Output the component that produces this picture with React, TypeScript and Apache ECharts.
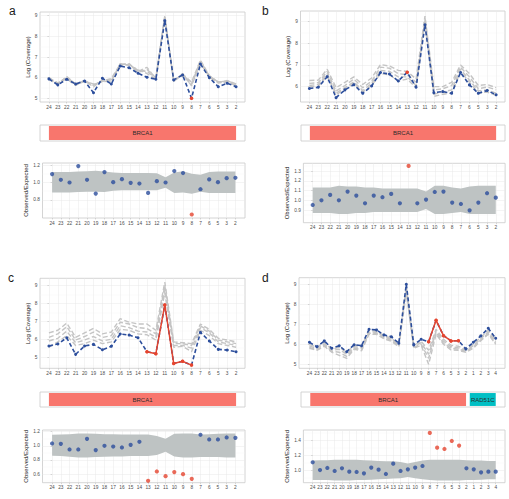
import React, { useEffect, useRef } from 'react';
import * as echarts from 'echarts';

// Exon labels (BRCA1 runs 3'->5', RAD51C follows in panel d)
const BRCA1_EXONS = ['24', '23', '22', '21', '20', '19', '18', '17', '16', '15', '14', '13', '12', '11', '10', '9', '8', '7', '6', '5', '3', '2'];
const RAD51C_EXONS = ['1', '2', '3', '4'];
const D_EXONS = [...BRCA1_EXONS, ...RAD51C_EXONS];

// Tick labels
const COV_TICKS = [5, 6, 7, 8, 9];
const A_RATIO_TICKS = [0.8, 1.0, 1.2];
const B_RATIO_TICKS = [0.9, 1.0, 1.1, 1.2, 1.3];
const C_RATIO_TICKS = [0.6, 0.8, 1.0, 1.2];
const D_RATIO_TICKS = [1.0, 1.2, 1.4];

// Panel a
const A_SAMPLE = [5.94, 5.65, 5.92, 5.69, 5.84, 5.27, 5.97, 5.69, 6.56, 6.48, 6.21, 6.02, 5.92, 8.76, 5.89, 6.13, 5.0, 6.66, 6.0, 5.56, 5.73, 5.56];
const A_REF1 = [6.0, 5.72, 6.03, 5.66, 5.88, 5.62, 5.85, 5.95, 6.66, 6.65, 6.35, 6.3, 5.98, 9.0, 5.82, 6.18, 5.78, 6.85, 6.1, 5.78, 5.85, 5.68];
const A_REF2 = [5.96, 5.75, 5.98, 5.72, 5.82, 5.7, 5.8, 5.86, 6.6, 6.62, 6.3, 6.5, 5.95, 8.92, 5.86, 6.12, 5.65, 6.78, 6.02, 5.74, 5.82, 5.64];
const A_REF3 = [5.9, 5.7, 5.95, 5.62, 5.86, 5.55, 5.9, 5.8, 6.68, 6.6, 6.38, 6.2, 5.92, 8.95, 5.8, 6.2, 5.6, 6.7, 6.05, 5.8, 5.78, 5.62];
const A_REF4 = [5.98, 5.68, 6.06, 5.68, 5.8, 5.66, 5.82, 5.9, 6.62, 6.68, 6.25, 6.4, 6.0, 8.88, 5.88, 6.15, 5.7, 6.8, 6.08, 5.76, 5.86, 5.7];
const A_RATIO = [1.096, 1.031, 1.0, 1.188, 1.031, 0.873, 1.119, 1.004, 1.038, 0.996, 0.988, 0.881, 1.015, 1.0, 1.131, 1.108, 0.634, 0.923, 1.035, 1.004, 1.05, 1.054];
const A_UPPER = [1.12, 1.12, 1.12, 1.125, 1.13, 1.135, 1.125, 1.115, 1.11, 1.11, 1.11, 1.11, 1.105, 1.06, 1.115, 1.13, 1.1, 1.09, 1.12, 1.125, 1.125, 1.125];
const A_LOWER = [0.885, 0.885, 0.885, 0.89, 0.895, 0.895, 0.89, 0.905, 0.91, 0.91, 0.91, 0.91, 0.91, 0.94, 0.88, 0.885, 0.87, 0.895, 0.88, 0.88, 0.88, 0.88];
const A_OUTLIERS = [16];

// Panel b
const B_SAMPLE = [5.91, 5.97, 6.46, 5.49, 5.85, 6.09, 5.69, 6.03, 6.65, 6.58, 6.26, 6.66, 5.97, 8.85, 5.72, 5.77, 5.69, 6.65, 6.08, 5.69, 5.82, 5.62];
const B_REF1 = [6.28, 6.3, 6.8, 5.95, 6.2, 6.45, 6.1, 6.4, 7.02, 6.95, 6.75, 6.7, 6.35, 9.25, 6.0, 6.0, 6.2, 7.0, 6.6, 6.05, 6.1, 5.95];
const B_REF2 = [6.15, 6.18, 6.7, 5.8, 6.05, 6.35, 5.95, 6.25, 6.9, 6.85, 6.6, 6.55, 6.2, 9.15, 5.85, 5.9, 6.05, 6.9, 6.45, 5.9, 5.98, 5.85];
const B_REF3 = [6.05, 6.1, 6.6, 5.7, 5.95, 6.22, 5.82, 6.15, 6.75, 6.7, 6.45, 6.45, 6.05, 9.05, 5.65, 5.75, 5.85, 6.8, 6.3, 5.8, 5.85, 5.7];
const B_REF4 = [5.98, 6.02, 6.5, 5.62, 5.9, 6.15, 5.75, 6.05, 6.6, 6.55, 6.25, 6.35, 5.95, 8.95, 5.55, 5.65, 5.7, 6.7, 6.2, 5.7, 5.75, 5.6];
const B_RATIO = [0.952, 1.0, 1.055, 1.0, 1.089, 1.048, 0.969, 1.048, 1.031, 1.065, 0.969, 1.352, 0.969, 1.007, 1.085, 1.089, 0.976, 0.962, 0.897, 0.976, 1.072, 1.027];
const B_UPPER = [1.13, 1.13, 1.13, 1.15, 1.14, 1.14, 1.13, 1.13, 1.12, 1.12, 1.12, 1.12, 1.12, 1.09, 1.15, 1.15, 1.13, 1.12, 1.14, 1.15, 1.15, 1.15];
const B_LOWER = [0.87, 0.87, 0.87, 0.86, 0.86, 0.87, 0.87, 0.88, 0.88, 0.88, 0.88, 0.88, 0.88, 0.91, 0.86, 0.86, 0.87, 0.88, 0.86, 0.86, 0.86, 0.86];
const B_OUTLIERS = [11];

// Panel c
const C_SAMPLE = [5.62, 5.73, 6.08, 5.15, 5.62, 5.71, 5.41, 5.6, 6.29, 6.23, 6.08, 5.3, 5.19, 7.92, 4.64, 4.76, 4.55, 6.38, 5.9, 5.43, 5.39, 5.3];
const C_REF1 = [6.35, 6.5, 6.9, 6.1, 6.35, 6.6, 6.3, 6.4, 7.15, 6.95, 6.85, 6.85, 6.5, 9.2, 5.85, 5.8, 5.75, 6.85, 6.55, 6.05, 5.95, 5.85];
const C_REF2 = [6.1, 6.3, 6.7, 5.95, 6.15, 6.4, 6.1, 6.2, 6.95, 6.85, 6.65, 6.6, 6.3, 9.0, 5.75, 5.75, 5.65, 6.75, 6.45, 5.95, 5.85, 5.75];
const C_REF3 = [5.9, 6.05, 6.45, 5.8, 5.95, 6.15, 5.9, 6.0, 6.75, 6.65, 6.45, 6.4, 6.1, 8.8, 5.65, 5.65, 5.5, 6.65, 6.35, 5.85, 5.75, 5.65];
const C_REF4 = [5.55, 5.85, 6.2, 5.65, 5.75, 5.95, 5.75, 5.85, 6.55, 6.5, 6.3, 6.25, 5.95, 8.6, 5.55, 5.6, 5.3, 6.5, 6.2, 5.75, 5.65, 5.55];
const C_RATIO = [1.033, 1.028, 0.948, 0.948, 1.099, 0.939, 1.0, 0.99, 0.976, 1.014, 1.057, 0.504, 0.636, 0.57, 0.627, 0.598, 0.532, 1.156, 1.09, 1.09, 1.118, 1.113];
const C_UPPER = [1.155, 1.16, 1.165, 1.175, 1.175, 1.17, 1.165, 1.165, 1.16, 1.16, 1.16, 1.16, 1.14, 1.1, 1.17, 1.175, 1.175, 1.16, 1.165, 1.17, 1.175, 1.175];
const C_LOWER = [0.86, 0.855, 0.845, 0.835, 0.835, 0.84, 0.845, 0.85, 0.85, 0.855, 0.855, 0.855, 0.87, 0.915, 0.85, 0.835, 0.835, 0.84, 0.84, 0.84, 0.835, 0.835];
const C_OUTLIERS = [11, 12, 13, 14, 15, 16];

// Panel d
const D_SAMPLE = [6.1, 5.88, 6.17, 5.8, 5.93, 5.63, 5.98, 5.93, 6.75, 6.72, 6.47, 6.38, 6.05, 9.0, 5.97, 6.25, 6.13, 7.2, 6.43, 6.17, 6.18, 5.77, 6.1, 6.42, 6.8, 6.3];
const D_REF1 = [6.0, 5.85, 6.1, 5.75, 5.85, 5.6, 5.95, 5.9, 6.7, 6.65, 6.45, 6.3, 6.0, 8.9, 5.95, 6.15, 5.7, 6.75, 6.25, 5.95, 5.9, 5.75, 6.0, 6.35, 6.7, 6.2];
const D_REF2 = [5.92, 5.78, 6.02, 5.7, 5.75, 5.5, 5.88, 5.82, 6.62, 6.6, 6.38, 6.25, 5.95, 8.8, 5.9, 6.08, 5.5, 6.65, 6.15, 5.88, 5.82, 5.7, 5.92, 6.28, 6.62, 6.12];
const D_REF3 = [5.85, 5.72, 5.95, 5.65, 5.6, 5.4, 5.8, 5.75, 6.55, 6.55, 6.32, 6.2, 5.92, 8.7, 5.85, 6.0, 5.3, 6.58, 6.05, 5.8, 5.76, 5.65, 5.86, 6.22, 6.55, 6.05];
const D_REF4 = [5.8, 5.7, 5.9, 5.6, 5.45, 5.3, 5.75, 5.68, 6.5, 6.5, 6.28, 6.15, 5.88, 8.6, 5.8, 5.95, 5.0, 6.5, 6.0, 5.72, 5.7, 5.6, 5.8, 6.18, 6.5, 6.0];
const D_RATIO = [1.107, 1.004, 1.031, 0.991, 1.027, 0.982, 0.978, 0.96, 1.036, 1.009, 0.951, 1.089, 0.991, 1.013, 1.036, 1.058, 1.498, 1.302, 1.284, 1.391, 1.329, 1.027, 1.013, 0.973, 0.982, 0.982];
const D_UPPER = [1.13, 1.135, 1.135, 1.14, 1.14, 1.14, 1.14, 1.135, 1.13, 1.125, 1.12, 1.12, 1.11, 1.09, 1.11, 1.13, 1.14, 1.14, 1.14, 1.14, 1.14, 1.135, 1.13, 1.13, 1.125, 1.125];
const D_LOWER = [0.87, 0.87, 0.87, 0.865, 0.865, 0.865, 0.87, 0.87, 0.875, 0.88, 0.885, 0.89, 0.895, 0.91, 0.895, 0.88, 0.87, 0.865, 0.865, 0.865, 0.865, 0.87, 0.87, 0.875, 0.88, 0.88];
const D_OUTLIERS = [16, 17, 18, 19, 20];

// Gene spans in exon-index units
const GENES_BRCA1 = [{ name: 'BRCA1', from: 0, to: 21, color: '#F8766D' }];
const GENES_D = [
  { name: 'BRCA1', from: 0, to: 21, color: '#F8766D' },
  { name: 'RAD51C', from: 21.5, to: 25, color: '#00BFC4' },
];

const FONT = '"Liberation Sans", Arial, Helvetica, sans-serif';
const BLUE = '#2c4e9c';
const RED = '#e5452f';
const REF_GREY = '#c4c4c4';
const BAND = '#bec3c3';
const BORDER = '#c9c9c9';
const GRID_MAJOR = '#e8e8e8';
const GRID_MINOR = '#f4f4f4';
const TICK_TEXT = '#4d4d4d';

type Box = { left: number; top: number; width: number; height: number };
type Gene = { name: string; from: number; to: number; color: string };

interface Panel {
  letter: string;
  letterX: number;
  letterY: number;
  exons: string[];
  sample: number[];
  refs: number[][];
  outliers: number[];
  ratio: number[];
  upper: number[];
  lower: number[];
  genes: Gene[];
  ratioTicks: number[];
  ratioStep: number;
  top: Box; topX: [number, number]; topY: [number, number]; topGap: number;
  track: Box; trackX: [number, number];
  bottom: Box; bottomX: [number, number]; bottomY: [number, number]; bottomGap: number;
}

const PANELS: Panel[] = [
  {
    letter: 'a', letterX: 9, letterY: 10.8, exons: BRCA1_EXONS,
    sample: A_SAMPLE, refs: [A_REF1, A_REF2, A_REF3, A_REF4], outliers: A_OUTLIERS,
    ratio: A_RATIO, upper: A_UPPER, lower: A_LOWER, genes: GENES_BRCA1,
    ratioTicks: A_RATIO_TICKS, ratioStep: 0.2,
    top: { left: 40, top: 12, width: 205, height: 90 }, topX: [-1, 22], topY: [4.82, 9.18], topGap: 6.5,
    track: { left: 40, top: 125, width: 205, height: 16 }, trackX: [-1, 22],
    bottom: { left: 42.5, top: 163, width: 202.5, height: 55 }, bottomX: [-1.1, 22.1], bottomY: [0.594, 1.223], bottomGap: 9.5,
  },
  {
    letter: 'b', letterX: 262, letterY: 10.8, exons: BRCA1_EXONS,
    sample: B_SAMPLE, refs: [B_REF1, B_REF2, B_REF3, B_REF4], outliers: B_OUTLIERS,
    ratio: B_RATIO, upper: B_UPPER, lower: B_LOWER, genes: GENES_BRCA1,
    ratioTicks: B_RATIO_TICKS, ratioStep: 0.1,
    top: { left: 300.5, top: 11, width: 204.5, height: 91 }, topX: [-1, 22], topY: [5.29, 9.49], topGap: 7.5,
    track: { left: 301, top: 125, width: 204, height: 16 }, trackX: [-1, 22],
    bottom: { left: 303.4, top: 163.3, width: 201.7, height: 59.4 }, bottomX: [-1.07, 22.07], bottomY: [0.77, 1.379], bottomGap: 10.5,
  },
  {
    letter: 'c', letterX: 8, letterY: 277.8, exons: BRCA1_EXONS,
    sample: C_SAMPLE, refs: [C_REF1, C_REF2, C_REF3, C_REF4], outliers: C_OUTLIERS,
    ratio: C_RATIO, upper: C_UPPER, lower: C_LOWER, genes: GENES_BRCA1,
    ratioTicks: C_RATIO_TICKS, ratioStep: 0.2,
    top: { left: 40, top: 278.3, width: 205, height: 90 }, topX: [-1, 22], topY: [4.37, 9.41], topGap: 6.5,
    track: { left: 40, top: 392, width: 205, height: 15 }, trackX: [-1, 22],
    bottom: { left: 42.5, top: 430, width: 202.5, height: 52.7 }, bottomX: [-1.1, 22.1], bottomY: [0.477, 1.224], bottomGap: 9.5,
  },
  {
    letter: 'd', letterX: 262, letterY: 277.8, exons: D_EXONS,
    sample: D_SAMPLE, refs: [D_REF1, D_REF2, D_REF3, D_REF4], outliers: D_OUTLIERS,
    ratio: D_RATIO, upper: D_UPPER, lower: D_LOWER, genes: GENES_D,
    ratioTicks: D_RATIO_TICKS, ratioStep: 0.2,
    top: { left: 299, top: 277.7, width: 206, height: 90.6 }, topX: [-1.4, 26.25], topY: [4.8, 9.33], topGap: 6.5,
    track: { left: 301, top: 392, width: 204, height: 15 }, trackX: [-1.25, 26.25],
    bottom: { left: 303.4, top: 430, width: 201.6, height: 52.7 }, bottomX: [-1.27, 26.27], bottomY: [0.835, 1.537], bottomGap: 10.5,
  },
];

function buildOption() {
  const grid: any[] = [];
  const xAxis: any[] = [];
  const yAxis: any[] = [];
  const series: any[] = [];
  const graphic: any[] = [];

  const addGrid = (box: Box) => {
    grid.push({ ...box, show: true, borderColor: BORDER, borderWidth: 0.8, backgroundColor: '#ffffff' });
    return grid.length - 1;
  };

  const exonAxis = (gi: number, range: [number, number], labels: string[], visible: boolean) => {
    const idx = labels.map((_, i) => i);
    return {
      type: 'value', gridIndex: gi, min: range[0], max: range[1], minInterval: 1, maxInterval: 1,
      axisLine: { show: false },
      axisTick: { show: visible, customValues: idx, length: 1.5, lineStyle: { color: '#b3b3b3', width: 0.5 } },
      axisLabel: {
        show: visible, customValues: idx, margin: 2.5, fontSize: 4.8, color: TICK_TEXT, fontFamily: FONT,
        formatter: (v: number) => labels[Math.round(v)] ?? '',
      },
      splitLine: { show: visible, lineStyle: { color: GRID_MAJOR, width: 0.5 } },
    };
  };

  const valueAxis = (gi: number, range: [number, number], ticks: number[], step: number, name: string, gap: number, digits: number) => ({
    type: 'value', gridIndex: gi, min: range[0], max: range[1], minInterval: step, maxInterval: step,
    axisLine: { show: false },
    axisTick: { show: true, customValues: ticks, length: 1.5, lineStyle: { color: '#b3b3b3', width: 0.5 } },
    axisLabel: {
      customValues: ticks, margin: 2.5, fontSize: 4.8, color: TICK_TEXT, fontFamily: FONT,
      formatter: (v: number) => v.toFixed(digits),
    },
    splitLine: { show: true, lineStyle: { color: GRID_MAJOR, width: 0.5 } },
    minorTick: { show: false, splitNumber: 2 },
    minorSplitLine: { show: true, lineStyle: { color: GRID_MINOR, width: 0.4 } },
    name, nameLocation: 'middle', nameGap: gap, nameRotate: 90,
    nameTextStyle: { fontSize: 6, color: '#1a1a1a', fontFamily: FONT },
  });

  PANELS.forEach((p) => {
    // Coverage profile
    const gTop = addGrid(p.top);
    xAxis.push(exonAxis(gTop, p.topX, p.exons, true));
    yAxis.push(valueAxis(gTop, p.topY, COV_TICKS, 1, 'Log (Coverage)', p.topGap, 0));
    p.refs.forEach((ref) => {
      series.push({
        type: 'line', xAxisIndex: gTop, yAxisIndex: gTop, silent: true, z: 2,
        data: ref.map((v, i) => [i, v]), symbol: 'none',
        lineStyle: { color: REF_GREY, width: 1.4, type: [5, 2.5] },
      });
    });
    series.push({
      type: 'line', xAxisIndex: gTop, yAxisIndex: gTop, silent: true, z: 3,
      data: p.sample.map((v, i) => ({ value: [i, v], itemStyle: { color: p.outliers.includes(i) ? RED : BLUE } })),
      symbol: 'circle', symbolSize: 3, showSymbol: true,
      lineStyle: { color: BLUE, width: 1.6, type: [4, 2.5] },
    });
    series.push({
      type: 'line', xAxisIndex: gTop, yAxisIndex: gTop, silent: true, z: 4,
      data: p.outliers.map((i) => [i, p.sample[i]]),
      symbol: 'circle', symbolSize: 3.5, showSymbol: true,
      itemStyle: { color: RED }, lineStyle: { color: RED, width: 1.5 },
    });

    // Gene track
    const gTrack = addGrid(p.track);
    xAxis.push({ ...exonAxis(gTrack, p.trackX, p.exons, false), show: false });
    yAxis.push({ type: 'value', gridIndex: gTrack, min: -0.08, max: 1.08, show: false, splitLine: { show: false } });
    const genes = p.genes;
    series.push({
      type: 'custom', xAxisIndex: gTrack, yAxisIndex: gTrack, silent: true, z: 3,
      data: genes.map((g) => [g.from, g.to]),
      encode: { x: [0, 1] },
      renderItem: (params: any, api: any) => {
        const g = genes[params.dataIndex];
        const p0 = api.coord([g.from, 1]);
        const p1 = api.coord([g.to, 0]);
        return {
          type: 'group',
          children: [
            { type: 'rect', shape: { x: p0[0], y: p0[1], width: p1[0] - p0[0], height: p1[1] - p0[1] }, style: { fill: g.color } },
            {
              type: 'text',
              style: {
                text: g.name, x: (p0[0] + p1[0]) / 2, y: (p0[1] + p1[1]) / 2,
                align: 'center', verticalAlign: 'middle', fontSize: 6, fill: '#2b2b2b', fontFamily: FONT,
              },
            },
          ],
        };
      },
    });

    // Observed / expected ratios with the reference band drawn as one polygon
    const gBot = addGrid(p.bottom);
    xAxis.push(exonAxis(gBot, p.bottomX, p.exons, true));
    yAxis.push(valueAxis(gBot, p.bottomY, p.ratioTicks, p.ratioStep, 'Observed/Expected', p.bottomGap, 1));
    const upper = p.upper;
    const lower = p.lower;
    series.push({
      type: 'custom', xAxisIndex: gBot, yAxisIndex: gBot, silent: true, z: 2,
      data: upper.map((u, i) => [i, lower[i], u]),
      encode: { x: 0, y: [1, 2] },
      renderItem: (params: any, api: any) => {
        if (params.dataIndex !== 0) return null;
        const top = upper.map((u, i) => api.coord([i, u]));
        const bottom = lower.map((l, i) => api.coord([i, l])).reverse();
        return { type: 'polygon', shape: { points: [...top, ...bottom] }, style: { fill: BAND } };
      },
    });
    series.push({
      type: 'scatter', xAxisIndex: gBot, yAxisIndex: gBot, silent: true, z: 4, symbolSize: 4.2,
      data: p.ratio.map((v, i) => ({ value: [i, v], itemStyle: { color: p.outliers.includes(i) ? RED : BLUE } })),
    });

    graphic.push({
      type: 'text', x: p.letterX, y: p.letterY, silent: true,
      style: { text: p.letter, fontSize: 12, fill: '#1a1a1a', fontFamily: FONT, verticalAlign: 'middle', align: 'left' },
    });
  });

  return { animation: false, backgroundColor: '#ffffff', grid, xAxis, yAxis, series, graphic };
}

export default function App() {
  const ref = useRef<HTMLDivElement>(null);
  useEffect(() => {
    if (!ref.current) return;
    const chart = echarts.init(ref.current, undefined, { renderer: 'svg' });
    chart.setOption(buildOption() as any);
    return () => chart.dispose();
  }, []);
  return (
    <div
      ref={ref}
      style={{ position: 'fixed', left: 0, top: 0, width: 509, height: 499, background: '#fff' }}
    />
  );
}
